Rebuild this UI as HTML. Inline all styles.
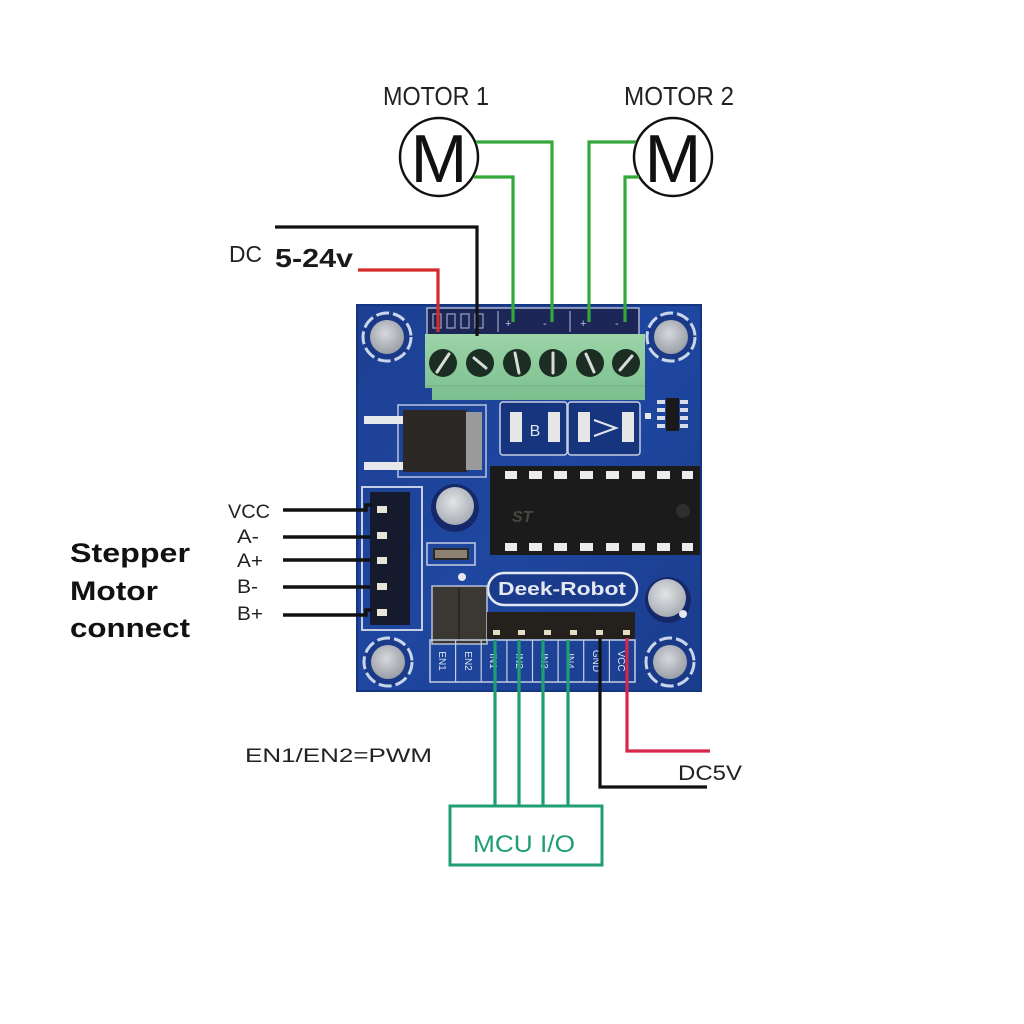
<!DOCTYPE html>
<html><head><meta charset="utf-8"><style>
html,body{margin:0;padding:0;background:#fff;}
svg{display:block;}
text{font-family:"Liberation Sans",sans-serif;}
</style></head><body>
<svg width="1024" height="1024" viewBox="0 0 1024 1024" xmlns="http://www.w3.org/2000/svg">
<defs>
<radialGradient id="hole" cx="45%" cy="40%" r="60%"><stop offset="0" stop-color="#d6d8dc"/><stop offset="1" stop-color="#9a9ea6"/></radialGradient>
<radialGradient id="cap" cx="45%" cy="40%" r="60%"><stop offset="0" stop-color="#e2e4e6"/><stop offset="1" stop-color="#a8acb2"/></radialGradient>
<linearGradient id="board" x1="0" y1="0" x2="1" y2="1"><stop offset="0" stop-color="#1c3f92"/><stop offset="0.5" stop-color="#1f47a0"/><stop offset="1" stop-color="#1a3c8c"/></linearGradient>
<linearGradient id="term" x1="0" y1="0" x2="0" y2="1"><stop offset="0" stop-color="#9bd4a8"/><stop offset="1" stop-color="#7cbf8e"/></linearGradient>
</defs>

<!-- Top labels -->
<text x="383" y="105" font-size="26" fill="#222" textLength="106" lengthAdjust="spacingAndGlyphs">MOTOR 1</text>
<text x="624" y="105" font-size="26" fill="#222" textLength="110" lengthAdjust="spacingAndGlyphs">MOTOR 2</text>

<!-- Motors -->
<circle cx="439" cy="157" r="39" fill="#fff" stroke="#111" stroke-width="2.5"/>
<text x="439" y="182" font-size="68" fill="#111" text-anchor="middle">M</text>
<circle cx="673" cy="157" r="39" fill="#fff" stroke="#111" stroke-width="2.5"/>
<text x="673" y="182" font-size="68" fill="#111" text-anchor="middle">M</text>

<!-- DC label -->
<text x="229" y="262" font-size="23" fill="#222" textLength="33" lengthAdjust="spacingAndGlyphs">DC</text>
<text x="275" y="267" font-size="26" font-weight="bold" fill="#1a1a1a" textLength="78" lengthAdjust="spacingAndGlyphs">5-24v</text>

<!-- Board -->
<rect x="357" y="305" width="344" height="386" fill="url(#board)"/>
<rect x="357" y="305" width="344" height="386" fill="none" stroke="#163580" stroke-width="2"/>

<!-- mounting holes -->
<g>
  <circle cx="387" cy="337" r="24" fill="#1a3a88" stroke="#c9d5ea" stroke-width="3" stroke-dasharray="13 4"/>
  <circle cx="387" cy="337" r="17" fill="url(#hole)"/>
  <circle cx="671" cy="337" r="24" fill="#1a3a88" stroke="#c9d5ea" stroke-width="3" stroke-dasharray="13 4"/>
  <circle cx="671" cy="337" r="17" fill="url(#hole)"/>
  <circle cx="388" cy="662" r="24" fill="#1a3a88" stroke="#c9d5ea" stroke-width="3" stroke-dasharray="13 4"/>
  <circle cx="388" cy="662" r="17" fill="url(#hole)"/>
  <circle cx="670" cy="662" r="24" fill="#1a3a88" stroke="#c9d5ea" stroke-width="3" stroke-dasharray="13 4"/>
  <circle cx="670" cy="662" r="17" fill="url(#hole)"/>
</g>

<!-- terminal label strip -->
<rect x="427" y="308" width="212" height="27" fill="#1c2758" stroke="#aab4cc" stroke-width="1.5"/>
<g stroke="#9aa6c4" stroke-width="1.2" fill="none">
  <rect x="433" y="314" width="8" height="14"/><rect x="447" y="314" width="8" height="14"/>
  <rect x="461" y="314" width="8" height="14"/><rect x="475" y="314" width="8" height="14"/>
  <line x1="498" y1="311" x2="498" y2="332"/><line x1="570" y1="311" x2="570" y2="332"/>
</g>
<text x="505" y="327" font-size="11" fill="#b8c0d6">+</text>
<text x="543" y="327" font-size="11" fill="#b8c0d6">-</text>
<text x="580" y="327" font-size="11" fill="#b8c0d6">+</text>
<text x="615" y="327" font-size="11" fill="#b8c0d6">-</text>

<!-- green terminal block -->
<path d="M425 334 H645 V400 H432 V388 H425 Z" fill="url(#term)"/>
<line x1="425" y1="386" x2="645" y2="386" stroke="#6fae80" stroke-width="1"/>
<g fill="#1c2e24">
  <circle cx="443" cy="363" r="14"/><circle cx="480" cy="363" r="14"/><circle cx="517" cy="363" r="14"/>
  <circle cx="553" cy="363" r="14"/><circle cx="590" cy="363" r="14"/><circle cx="626" cy="363" r="14"/>
</g>
<g stroke="#d8ddd9" stroke-width="3" stroke-linecap="round">
  <line x1="437" y1="372" x2="449" y2="354"/>
  <line x1="474" y1="358" x2="486" y2="368"/>
  <line x1="515" y1="353" x2="519" y2="373"/>
  <line x1="553" y1="353" x2="553" y2="373"/>
  <line x1="586" y1="354" x2="594" y2="372"/>
  <line x1="620" y1="370" x2="632" y2="356"/>
</g>

<!-- regulator -->
<rect x="398" y="405" width="88" height="72" fill="none" stroke="#b8c4de" stroke-width="1.5"/>
<rect x="364" y="416" width="40" height="8" fill="#e6e8ec"/>
<rect x="364" y="462" width="40" height="8" fill="#e6e8ec"/>
<rect x="403" y="410" width="64" height="62" fill="#2b2826"/>
<rect x="466" y="412" width="16" height="58" fill="#9a9a9a"/>

<!-- LED boxes -->
<rect x="500" y="402" width="67" height="53" rx="3" fill="#17357e" stroke="#c5cee2" stroke-width="1.5"/>
<rect x="568" y="402" width="72" height="53" rx="3" fill="#17357e" stroke="#c5cee2" stroke-width="1.5"/>
<rect x="510" y="412" width="12" height="30" fill="#e6e6e6"/>
<rect x="548" y="412" width="12" height="30" fill="#e6e6e6"/>
<text x="535" y="436" font-size="16" fill="#e0e6f0" text-anchor="middle">B</text>
<rect x="578" y="412" width="12" height="30" fill="#e6e6e6"/>
<rect x="622" y="412" width="12" height="30" fill="#e6e6e6"/>
<path d="M594 420 L616 428 L594 436" fill="none" stroke="#e0e6f0" stroke-width="2"/>

<!-- small 8 pin IC -->
<rect x="666" y="398" width="13" height="33" fill="#1a1a1a"/>
<g fill="#d8dce4">
  <rect x="657" y="400" width="8" height="4"/><rect x="657" y="408" width="8" height="4"/><rect x="657" y="416" width="8" height="4"/><rect x="657" y="424" width="8" height="4"/>
  <rect x="680" y="400" width="8" height="4"/><rect x="680" y="408" width="8" height="4"/><rect x="680" y="416" width="8" height="4"/><rect x="680" y="424" width="8" height="4"/>
</g>
<rect x="645" y="413" width="6" height="6" fill="#e6e8ec"/>

<!-- DIP IC -->
<rect x="490" y="466" width="210" height="89" fill="#1b1b1c"/>
<g fill="#ececec">
  <rect x="505" y="471" width="12" height="8"/><rect x="529" y="471" width="13" height="8"/><rect x="554" y="471" width="13" height="8"/><rect x="580" y="471" width="13" height="8"/>
  <rect x="606" y="471" width="13" height="8"/><rect x="632" y="471" width="13" height="8"/><rect x="657" y="471" width="13" height="8"/><rect x="682" y="471" width="11" height="8"/>
  <rect x="505" y="543" width="12" height="8"/><rect x="529" y="543" width="13" height="8"/><rect x="554" y="543" width="13" height="8"/><rect x="580" y="543" width="13" height="8"/>
  <rect x="606" y="543" width="13" height="8"/><rect x="632" y="543" width="13" height="8"/><rect x="657" y="543" width="13" height="8"/><rect x="682" y="543" width="11" height="8"/>
</g>
<text x="512" y="522" font-size="16" font-style="italic" font-weight="bold" fill="#4a4640">ST</text>
<circle cx="683" cy="511" r="7" fill="#2e2e30"/>

<!-- capacitors -->
<circle cx="455" cy="508" r="24" fill="#15296a"/>
<circle cx="455" cy="506" r="19" fill="url(#cap)"/>
<circle cx="668" cy="600" r="23" fill="#15296a"/>
<circle cx="667" cy="598" r="19" fill="url(#cap)"/>

<!-- small resistor -->
<rect x="427" y="543" width="48" height="22" fill="none" stroke="#c5cee2" stroke-width="1.5"/>
<rect x="433" y="548" width="36" height="12" fill="#2a2a2a"/>
<rect x="435" y="550" width="32" height="8" fill="#8d8070"/>

<!-- 5 pin stepper connector -->
<rect x="362" y="487" width="60" height="143" fill="none" stroke="#c5cee2" stroke-width="2"/>
<rect x="370" y="492" width="40" height="133" fill="#151a2c"/>
<g fill="#e8e4d8">
  <rect x="377" y="506" width="10" height="7"/><rect x="377" y="532" width="10" height="7"/><rect x="377" y="557" width="10" height="7"/>
  <rect x="377" y="583" width="10" height="7"/><rect x="377" y="609" width="10" height="7"/>
</g>
<circle cx="462" cy="577" r="4" fill="#e6e8ec"/>
<circle cx="683" cy="614" r="4" fill="#e6e8ec"/>

<!-- Deek-Robot -->
<rect x="488" y="573" width="149" height="32" rx="16" fill="#1a3a8c" stroke="#e4e8f0" stroke-width="2.5"/>
<text x="562" y="595" font-family="Liberation Serif,serif" font-weight="bold" font-size="18" fill="#e4e8f0" text-anchor="middle" textLength="128" lengthAdjust="spacingAndGlyphs">Deek-Robot</text>

<!-- jumper + header -->
<rect x="432" y="586" width="55" height="58" fill="#3b3834" stroke="#b8c2d8" stroke-width="1.5"/>
<line x1="459" y1="588" x2="459" y2="642" stroke="#2a2826" stroke-width="2"/>
<rect x="487" y="612" width="148" height="27" fill="#24201c"/>
<g fill="#e6dcc4">
  <rect x="493" y="630" width="7" height="5"/><rect x="518" y="630" width="7" height="5"/><rect x="544" y="630" width="7" height="5"/>
  <rect x="570" y="630" width="7" height="5"/><rect x="596" y="630" width="7" height="5"/><rect x="623" y="630" width="7" height="5"/>
</g>

<!-- pin labels -->
<rect x="430" y="640" width="205" height="42" fill="none" stroke="#c5cee2" stroke-width="1.5"/>
<g stroke="#c5cee2" stroke-width="1.2">
  <line x1="455.6" y1="640" x2="455.6" y2="682"/><line x1="481.2" y1="640" x2="481.2" y2="682"/>
  <line x1="506.9" y1="640" x2="506.9" y2="682"/><line x1="532.5" y1="640" x2="532.5" y2="682"/>
  <line x1="558.1" y1="640" x2="558.1" y2="682"/><line x1="583.7" y1="640" x2="583.7" y2="682"/>
  <line x1="609.4" y1="640" x2="609.4" y2="682"/>
</g>
<g font-size="10" fill="#dce3f0" text-anchor="middle">
  <text transform="translate(439,661) rotate(90)">EN1</text>
  <text transform="translate(465,661) rotate(90)">EN2</text>
  <text transform="translate(490,661) rotate(90)">IN1</text>
  <text transform="translate(516,661) rotate(90)">IN2</text>
  <text transform="translate(541,661) rotate(90)">IN3</text>
  <text transform="translate(567,661) rotate(90)">IN4</text>
  <text transform="translate(593,661) rotate(90)">GND</text>
  <text transform="translate(618,661) rotate(90)">VCC</text>
</g>

<!-- Top wires -->
<g fill="none" stroke-width="3.2" stroke-linejoin="miter">
  <path d="M358 270 H438 V332" stroke="#d42a2a"/>
  <path d="M275 227 H477 V336" stroke="#111"/>
  <path d="M476 142 H552 V322" stroke="#35a83a"/>
  <path d="M474 177 H513 V322" stroke="#35a83a"/>
  <path d="M636 142 H589 V322" stroke="#35a83a"/>
  <path d="M639 177 H625 V322" stroke="#35a83a"/>
</g>

<!-- Stepper labels -->
<text x="70" y="562" font-size="27" font-weight="bold" fill="#111" textLength="120" lengthAdjust="spacingAndGlyphs">Stepper</text>
<text x="70" y="600" font-size="27" font-weight="bold" fill="#111" textLength="88" lengthAdjust="spacingAndGlyphs">Motor</text>
<text x="70" y="637" font-size="27" font-weight="bold" fill="#111" textLength="120" lengthAdjust="spacingAndGlyphs">connect</text>

<g font-size="19" fill="#222">
  <text x="228" y="518" textLength="42" lengthAdjust="spacingAndGlyphs">VCC</text>
  <text x="237" y="543" textLength="22" lengthAdjust="spacingAndGlyphs">A-</text>
  <text x="237" y="567" textLength="26" lengthAdjust="spacingAndGlyphs">A+</text>
  <text x="237" y="593" textLength="21" lengthAdjust="spacingAndGlyphs">B-</text>
  <text x="237" y="620" textLength="26" lengthAdjust="spacingAndGlyphs">B+</text>
</g>
<g stroke="#111" stroke-width="3.5" fill="none">
  <path d="M283 510 H366 V505 H372"/>
  <line x1="283" y1="537" x2="370" y2="537"/>
  <line x1="283" y1="560" x2="370" y2="560"/>
  <line x1="283" y1="587" x2="370" y2="587"/>
  <path d="M283 615 H366 V610 H372"/>
</g>

<!-- Bottom wires -->
<g fill="none" stroke-width="3.2">
  <line x1="495" y1="640" x2="495" y2="806" stroke="#1f9e72"/>
  <line x1="519" y1="640" x2="519" y2="806" stroke="#1f9e72"/>
  <line x1="543" y1="640" x2="543" y2="806" stroke="#1f9e72"/>
  <line x1="568" y1="640" x2="568" y2="806" stroke="#1f9e72"/>
  <path d="M600 638 V787 H707" stroke="#111"/>
  <path d="M627 638 V751 H710" stroke="#d8264a"/>
</g>

<text x="245" y="762" font-size="19" fill="#222" textLength="187" lengthAdjust="spacingAndGlyphs">EN1/EN2=PWM</text>
<text x="678" y="780" font-size="21" fill="#222" textLength="64" lengthAdjust="spacingAndGlyphs">DC5V</text>

<rect x="450" y="806" width="152" height="59" fill="#fff" stroke="#1f9e72" stroke-width="3"/>
<text x="473" y="852" font-size="24" fill="#1f9e72" textLength="102" lengthAdjust="spacingAndGlyphs">MCU  I/O</text>
</svg>
</body></html>
